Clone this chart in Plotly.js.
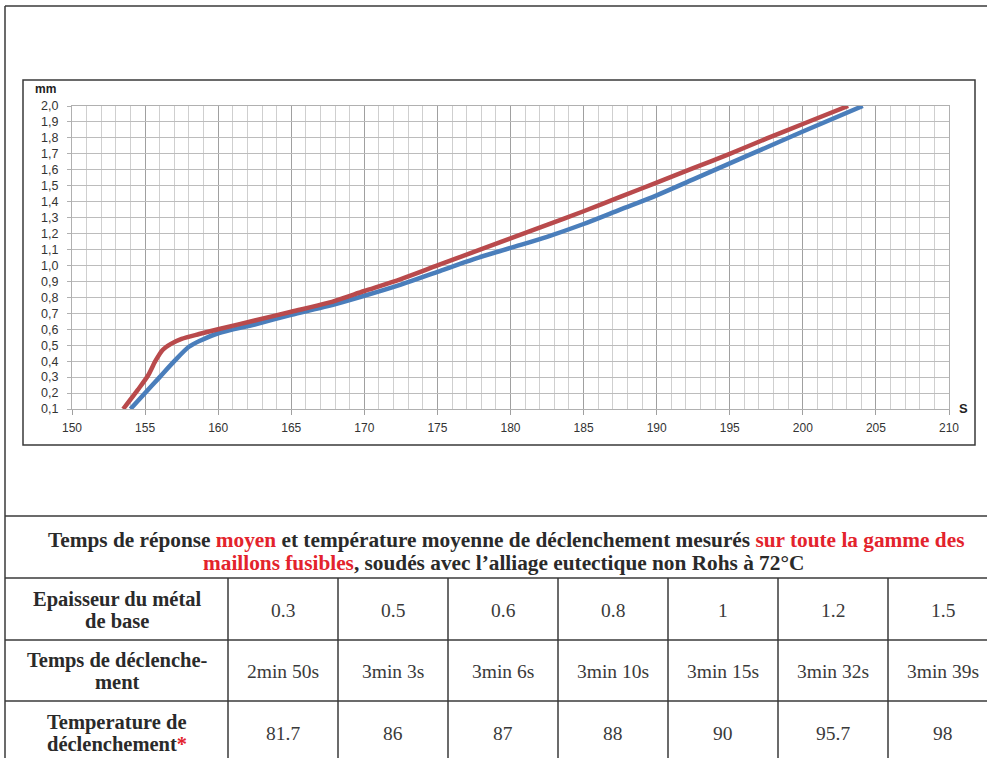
<!DOCTYPE html>
<html>
<head>
<meta charset="utf-8">
<script src="https://cdn.plot.ly/plotly-3.0.1.min.js"></script>
<style>html,body{margin:0;padding:0;background:#fff;}#chart{width:987px;height:758px;}</style>
</head>
<body>
<div id="chart"></div>
<script>
// ---- chart data ----
var redX = [153.5, 154.5, 155.2, 155.7, 156.2, 156.8, 157.5, 158.7, 160, 162.5, 165, 167.5, 170, 172.5, 175, 177.5, 180, 182.5, 185, 187.5, 190, 192.5, 195, 197.5, 200, 203.1];
var redY = [0.10, 0.22, 0.31, 0.40, 0.47, 0.51, 0.54, 0.57, 0.60, 0.655, 0.71, 0.765, 0.84, 0.915, 1.00, 1.085, 1.17, 1.255, 1.34, 1.43, 1.52, 1.61, 1.70, 1.795, 1.887, 2.0];
var blueX = [154.0, 155, 156, 157, 158, 158.8, 160, 162.5, 165, 167.5, 170, 172.5, 175, 177.5, 180, 182.5, 185, 187.5, 190, 192.5, 195, 197.5, 200, 204.1];
var blueY = [0.10, 0.20, 0.30, 0.40, 0.49, 0.53, 0.575, 0.63, 0.69, 0.745, 0.81, 0.88, 0.96, 1.04, 1.11, 1.18, 1.26, 1.35, 1.44, 1.54, 1.64, 1.74, 1.84, 2.0];
var xTickVals = [150, 155, 160, 165, 170, 175, 180, 185, 190, 195, 200, 205, 210];
var yTickVals = [0.1, 0.2, 0.3, 0.4, 0.5, 0.6, 0.7, 0.8, 0.9, 1.0, 1.1, 1.2, 1.3, 1.4, 1.5, 1.6, 1.7, 1.8, 1.9, 2.0];
var yTickText = ["0,1","0,2","0,3","0,4","0,5","0,6","0,7","0,8","0,9","1,0","1,1","1,2","1,3","1,4","1,5","1,6","1,7","1,8","1,9","2,0"];
var yUnit = "mm";
var xUnit = "S";

// ---- table data ----
var headerLine1 = "Temps de réponse <span style='color:#e3232c'>moyen</span> et température moyenne de déclenchement mesurés <span style='color:#e3232c'>sur toute la gamme des</span>";
var headerLine2 = "<span style='color:#e3232c'>maillons fusibles</span>, soudés avec l’alliage eutectique non Rohs à 72°C";
var rowLabels = [["Epaisseur du métal", "de base"], ["Temps de déclenche-", "ment"], ["Temperature de", "déclenchement<span style='color:#e3232c'>*</span>"]];
var thickness = ["0.3", "0.5", "0.6", "0.8", "1", "1.2", "1.5"];
var tripTime = ["2min 50s", "3min 3s", "3min 6s", "3min 10s", "3min 15s", "3min 32s", "3min 39s"];
var tripTemp = ["81.7", "86", "87", "88", "90", "95.7", "98"];

// ---- layout helpers (pixel -> paper) ----
var W = 987, H = 758;
function px(x){ return x / W; }
function py(y){ return 1 - y / H; }
function line(x0, y0, x1, y1, w, c){
  return {type:'line', xref:'paper', yref:'paper', x0:px(x0), y0:py(y0), x1:px(x1), y1:py(y1),
          line:{color:c||'#3a3a3a', width:w||1.5}};
}
function note(x, y, text, font){
  return {xref:'paper', yref:'paper', x:px(x), y:py(y), text:text, showarrow:false,
          xanchor:'center', yanchor:'middle', font:font};
}

var shapes = [];
// outer frame
shapes.push(line(5, 6, 987, 6, 1.5));
shapes.push(line(5, 6, 5, 758, 1.5));
// chart box
shapes.push({type:'rect', xref:'paper', yref:'paper', x0:px(23), y0:py(80), x1:px(975), y1:py(445),
             line:{color:'#3a3a3a', width:1.5}});
// table lines
var rowLines = [516, 578, 640, 701];
rowLines.forEach(function(y){ shapes.push(line(5, y, 987, y, 1.5)); });
var colLines = [228, 338, 448, 558, 668, 778, 888];
colLines.forEach(function(x){ shapes.push(line(x, 578, x, 758, 1.5)); });

var serif = "Times New Roman";
var sans = "Liberation Sans";
var annotations = [];
annotations.push(note(45.5, 89, '<b>'+yUnit+'</b>', {family:sans, size:12, color:'#222'}));
annotations.push(note(963, 408, '<b>'+xUnit+'</b>', {family:sans, size:13, color:'#222'}));
// header
annotations.push(note(506, 540, '<b>'+headerLine1+'</b>', {family:serif, size:21.3, color:'#2a2a2a'}));
annotations.push(note(504, 563, '<b>'+headerLine2+'</b>', {family:serif, size:21.3, color:'#2a2a2a'}));
// rows
var rowCenters = [610, 671, 733];
var rows = [thickness, tripTime, tripTemp];
for (var r = 0; r < 3; r++){
  annotations.push(note(117, rowCenters[r] - 10.5, '<b>'+rowLabels[r][0]+'</b>', {family:serif, size:20.5, color:'#2a2a2a'}));
  annotations.push(note(117, rowCenters[r] + 11, '<b>'+rowLabels[r][1]+'</b>', {family:serif, size:20.5, color:'#2a2a2a'}));
  for (var c = 0; c < 7; c++){
    var cx = (colLines[c] + (c < 6 ? colLines[c+1] : 998)) / 2;
    annotations.push(note(cx, rowCenters[r], rows[r][c], {family:serif, size:19.5, color:'#3a3a3a'}));
  }
}

var traces = [
  {x: blueX, y: blueY, type:'scatter', mode:'lines', line:{color:'#4a7ebb', width:4.5, shape:'spline', smoothing:0.8}, hoverinfo:'none'},
  {x: redX, y: redY, type:'scatter', mode:'lines', line:{color:'#b94a4c', width:4.5, shape:'spline', smoothing:0.8}, hoverinfo:'none'}
];

var layout = {
  width: W, height: H,
  margin: {l:0, r:0, t:0, b:0},
  paper_bgcolor:'#ffffff', plot_bgcolor:'#ffffff',
  showlegend:false,
  xaxis: {
    domain:[px(72), px(949)], range:[150, 210], tickvals:xTickVals, ticktext:xTickVals.map(String),
    showgrid:true, gridcolor:'#a0a0a0', gridwidth:1,
    minor:{dtick:1, showgrid:true, gridcolor:'#cfcfcf', gridwidth:1},
    ticks:'outside', ticklen:5, tickcolor:'#a0a0a0', ticklabelstandoff:3,
    showline:true, linecolor:'#b0b0b0', mirror:true, zeroline:false,
    tickfont:{family:sans, size:12, color:'#333'}
  },
  yaxis: {
    domain:[py(409), py(106)], range:[0.1, 2.0], tickvals:yTickVals, ticktext:yTickText,
    showgrid:true, gridcolor:'#bcbcbc', gridwidth:1,
    ticks:'outside', ticklen:4, tickcolor:'#b0b0b0', ticklabelstandoff:6,
    showline:true, linecolor:'#b0b0b0', mirror:true, zeroline:false,
    tickfont:{family:sans, size:12.5, color:'#333'}
  },
  shapes: shapes,
  annotations: annotations
};

Plotly.newPlot('chart', traces, layout, {staticPlot:true, displayModeBar:false});
</script>
</body>
</html>
